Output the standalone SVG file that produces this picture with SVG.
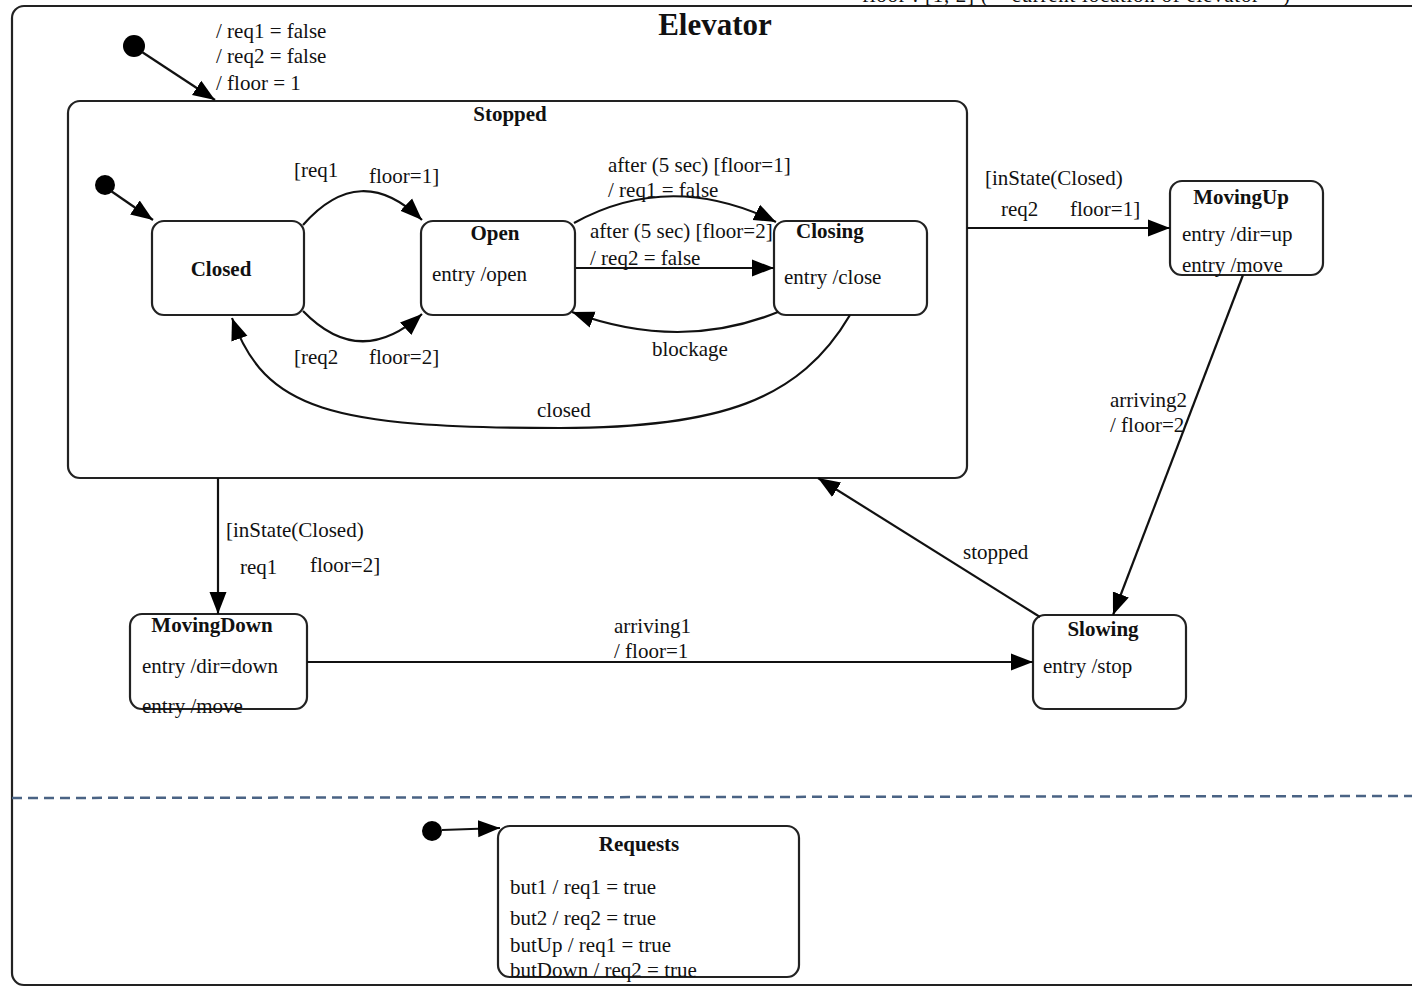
<svg xmlns="http://www.w3.org/2000/svg" width="1412" height="988" viewBox="0 0 1412 988">
<style>
text{font-family:"Liberation Serif","Times New Roman",serif;font-size:21px;fill:#111}
.b{font-weight:bold}
.t{font-weight:bold;font-size:31px}
.m{text-anchor:middle}
.node{fill:#fff;stroke:#222;stroke-width:2.2}
.edge{fill:none;stroke:#111;stroke-width:2.2;marker-end:url(#ah)}
.dot{fill:#000}
</style>
<defs>
<marker id="ah" markerWidth="24" markerHeight="20" refX="22" refY="10" orient="auto" markerUnits="userSpaceOnUse">
<path d="M0,1.5 L22,10 L0,18.5 z" fill="#000"/>
</marker>
</defs>
<rect fill="#fff" width="1412" height="988"/>
<g id="Elevator">
<rect class="node" x="12" y="6" width="1430" height="979" rx="12"/>
<text x="862" y="2" textLength="428" lengthAdjust="spacing">floor : [1, 2] ( * current location of elevator * )</text>
<text class="t m" x="715" y="35">Elevator</text>
<line x1="12" y1="798" x2="1412" y2="796" stroke="#4a6384" stroke-width="2.5" stroke-dasharray="10,6"/>
</g>
<g id="Stopped">
<rect class="node" x="68" y="101" width="899" height="377" rx="12"/>
<text class="b m" x="510" y="121">Stopped</text>
</g>
<g id="init_top"><circle class="dot" cx="134" cy="46" r="11"/></g>
<g id="init_stopped"><circle class="dot" cx="105" cy="185" r="10"/></g>
<g id="init_requests"><circle class="dot" cx="432" cy="831" r="10"/></g>
<g id="Closed">
<rect class="node" x="152" y="221" width="152" height="94" rx="12"/>
<text class="b m" x="221" y="276">Closed</text>
</g>
<g id="Open">
<rect class="node" x="421" y="221" width="154" height="94" rx="12"/>
<text class="b m" x="495" y="240">Open</text>
<text x="432" y="281">entry /open</text>
</g>
<g id="Closing">
<rect class="node" x="774" y="221" width="153" height="94" rx="12"/>
<text class="b" x="796" y="238">Closing</text>
<text x="784" y="284">entry /close</text>
</g>
<g id="MovingUp">
<rect class="node" x="1170" y="181" width="153" height="94" rx="12"/>
<text class="b m" x="1241" y="204">MovingUp</text>
<text x="1182" y="241">entry /dir=up</text>
<text x="1182" y="272">entry /move</text>
</g>
<g id="Slowing">
<rect class="node" x="1033" y="615" width="153" height="94" rx="12"/>
<text class="b m" x="1103" y="636">Slowing</text>
<text x="1043" y="673">entry /stop</text>
</g>
<g id="MovingDown">
<rect class="node" x="130" y="614" width="177" height="95" rx="12"/>
<text class="b m" x="212" y="632">MovingDown</text>
<text x="142" y="673">entry /dir=down</text>
<text x="142" y="713">entry /move</text>
</g>
<g id="Requests">
<rect class="node" x="498" y="826" width="301" height="151" rx="12"/>
<text class="b m" x="639" y="851">Requests</text>
<text x="510" y="894">but1 / req1 = true</text>
<text x="510" y="925">but2 / req2 = true</text>
<text x="510" y="952">butUp / req1 = true</text>
<text x="510" y="977">butDown / req2 = true</text>
</g>
<g id="connectors">
<path class="edge" d="M142,52 L215,100"/>
<path class="edge" d="M111,191 L153,220"/>
<path class="edge" d="M442,830 L500,828"/>
<path class="edge" d="M303,225 Q360,160 422,220"/>
<path class="edge" d="M303,311 Q360,370 422,314"/>
<path class="edge" d="M574,223 Q670,170 776,222"/>
<path class="edge" d="M576,268 L774,268"/>
<path class="edge" d="M778,312 Q680,352 572,312"/>
<path class="edge" d="M850,315 C800,400 720,428 560,428 C330,428 265,410 232,318"/>
<path class="edge" d="M967,228 L1170,228"/>
<path class="edge" d="M1243,275 L1113,615"/>
<path class="edge" d="M1040,617 L818,478"/>
<path class="edge" d="M218,478 L218,614"/>
<path class="edge" d="M307,662 L1033,662"/>
<text x="216" y="38">/ req1 = false</text>
<text x="216" y="63">/ req2 = false</text>
<text x="216" y="90">/ floor = 1</text>
<text x="294" y="177">[req1</text>
<text x="369" y="183">floor=1]</text>
<text x="294" y="364">[req2</text>
<text x="369" y="364">floor=2]</text>
<text x="608" y="172">after (5 sec) [floor=1]</text>
<text x="608" y="197">/ req1 = false</text>
<text x="590" y="238">after (5 sec) [floor=2]</text>
<text x="590" y="265">/ req2 = false</text>
<text x="652" y="356">blockage</text>
<text x="537" y="417">closed</text>
<text x="985" y="185">[inState(Closed)</text>
<text x="1001" y="216">req2</text>
<text x="1070" y="216">floor=1]</text>
<text x="1110" y="407">arriving2</text>
<text x="1110" y="432">/ floor=2</text>
<text x="963" y="559">stopped</text>
<text x="226" y="537">[inState(Closed)</text>
<text x="240" y="574">req1</text>
<text x="310" y="572">floor=2]</text>
<text x="614" y="633">arriving1</text>
<text x="614" y="658">/ floor=1</text>
</g>
</svg>
